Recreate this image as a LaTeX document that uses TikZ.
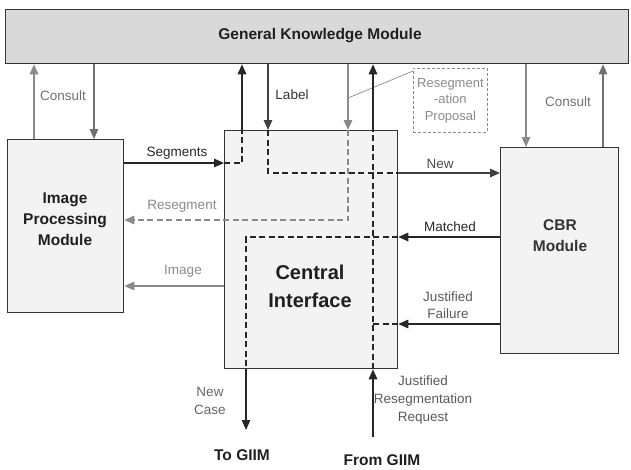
\documentclass[tikz,border=0pt]{standalone}
\usepackage{fontspec}
\setmainfont{Liberation Sans}
\usetikzlibrary{arrows.meta}
\definecolor{gkmfill}{HTML}{D9D9D9}
\definecolor{boxfill}{HTML}{F3F3F3}
\definecolor{edge}{HTML}{333333}
\definecolor{lgray}{HTML}{8A8A8A}
\definecolor{mgray}{HTML}{707070}
\begin{document}
\begin{tikzpicture}[x=1pt,y=-1pt,
  module/.style={draw=edge, line width=1.3pt, anchor=north west, inner sep=0pt, fill=boxfill},
  title/.style={font=\bfseries\fontsize{15.5}{21}\selectfont, align=center, text=black!88},
  lbl/.style={font=\fontsize{13.5}{18}\selectfont, align=center, inner sep=1pt},
  tip/.style={-{Triangle[length=10pt,width=8.5pt]}},
  solidb/.style={tip, draw=black!85, line width=1.5pt},
  solidg/.style={tip, draw=lgray, line width=1.3pt},
  dashb/.style={draw=black!85, line width=1.8pt, dash pattern=on 6pt off 3.5pt},
  dashg/.style={draw=lgray, line width=1.5pt, dash pattern=on 6pt off 3.5pt},
]
\useasboundingbox (0,0) rectangle (631,469);

% modules
\node[module, fill=gkmfill, minimum width=623pt, minimum height=54pt] (gkm) at (5,9) {};
\node[title] (gkmt) at (320,36) {General Knowledge Module};
\node[module, minimum width=116pt, minimum height=173pt] (ipm) at (7,139) {};
\node[title] (ipmt) at (65,219) {Image\\Processing\\Module};
\node[module, minimum width=173pt, minimum height=238pt] (ci) at (224,130) {};
\node[title, font=\bfseries\fontsize{20}{28}\selectfont] (cit) at (310,286) {Central\\Interface};
\node[module, minimum width=118pt, minimum height=206pt] (cbr) at (500,147) {};
\node[title, text=black!80] (cbrt) at (560,236) {CBR\\Module};

% resegmentation proposal label box
\node[draw=lgray, line width=0.8pt, dash pattern=on 3pt off 2pt, anchor=north west,
      minimum width=74pt, minimum height=64pt, inner sep=0pt,
      font=\fontsize{13}{16.5}\selectfont, align=center, text=lgray] (rp) at (413,68)
      {Resegment\\-ation\\Proposal};

% free ends
\coordinate (fromin) at (373,437);
\coordinate (toout) at (246,430);
\coordinate (jfend) at (373,324);
\coordinate (rpmark) at (348,98);

% consult (left)
\draw[solidg] (ipm.north -| 34,0) -- (gkm.south -| 34,0);
\draw[solidg, draw=mgray] (gkm.south -| 94,0) -- (ipm.north -| 94,0);

% segments
\draw[solidb] (ipm.east |- 0,163) -- (ci.west |- 0,163);
\draw[dashb] (ci.west |- 0,163) -| (ci.north -| 242,0);
\draw[solidb] (ci.north -| 242,0) -- (gkm.south -| 242,0);

% label -> new
\draw[solidb, draw=black!75] (gkm.south -| 268,0) -- (ci.north -| 268,0);
\draw[dashb] (ci.north -| 268,0) |- (ci.east |- 0,173);
\draw[solidb, draw=black!75] (ci.east |- 0,173) -- (cbr.west |- 0,173);

% resegmentation proposal -> resegment
\draw[solidg] (gkm.south -| 348,0) -- (ci.north -| 348,0);
\draw[dashg, tip] (ci.north -| 348,0) |- (ipm.east |- 0,220);
\draw[lgray, line width=0.7pt] (rp.west |- 0,71) -- (rpmark);

% from GIIM -> GKM
\draw[solidb] (fromin) -- (ci.south -| 373,0);
\draw[dashb] (ci.south -| 373,0) -- (ci.north -| 373,0);
\draw[solidb] (ci.north -| 373,0) -- (gkm.south -| 373,0);

% justified failure
\draw[solidb] (cbr.west |- 0,324) -- (ci.east |- 0,324);
\draw[dashb] (ci.east |- 0,324) -- (jfend);

% matched -> to GIIM
\draw[solidb] (cbr.west |- 0,237) -- (ci.east |- 0,237);
\draw[dashb] (ci.east |- 0,237) -| (ci.south -| 246,0);
\draw[solidb] (ci.south -| 246,0) -- (toout);

% image
\draw[solidg] (ci.west |- 0,286) -- (ipm.east |- 0,286);

% consult (right)
\draw[solidg] (gkm.south -| 526,0) -- (cbr.north -| 526,0);
\draw[solidg, draw=mgray] (cbr.north -| 603,0) -- (gkm.south -| 603,0);

% labels
\node[lbl, text=mgray] (l1) at (63,96) {Consult};
\node[lbl, text=black!80] (l2) at (292,95) {Label};
\node[lbl, text=black!85] (l3) at (177,153) {Segments};
\node[lbl, text=lgray] (l4) at (182,206) {Resegment};
\node[lbl, text=lgray] (l5) at (183,271) {Image};
\node[lbl, text=black!70] (l6) at (440,164) {New};
\node[lbl, text=black!85] (l7) at (450,227) {Matched};
\node[lbl, text=black!65, font=\fontsize{13.5}{17}\selectfont] (l8) at (448,305) {Justified\\Failure};
\node[lbl, text=mgray] (l9) at (568,102) {Consult};
\node[lbl, text=black!60] (l10) at (210,401) {New\\Case};
\node[lbl, text=black!65] (l11) at (423,400) {Justified\\Resegmentation\\Request};
\node[title] (togiim) at (242,455) {To GIIM};
\node[title] (fromgiim) at (382,460) {From GIIM};
\end{tikzpicture}
\end{document}
